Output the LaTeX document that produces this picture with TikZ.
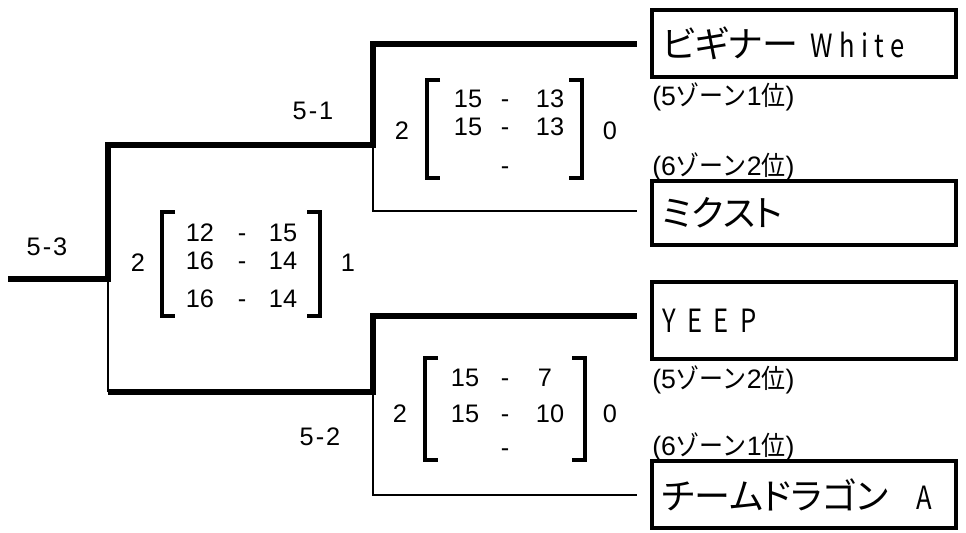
\documentclass[tikz,border=0pt]{standalone}
\usepackage{fontspec}
\setmainfont{Liberation Sans}
\newfontfamily\jp[RawFeature=+palt]{Noto Sans CJK JP}
\newfontfamily\jpn[FakeStretch=0.9]{Noto Sans CJK JP}
\newfontfamily\latnW[FakeStretch=0.8,LetterSpace=20]{Noto Sans CJK JP}
\newfontfamily\latnY[FakeStretch=0.8,LetterSpace=36]{Noto Sans CJK JP}
\newcommand\scorerow[7]{%
  \node[score] (#1a) at (#3,#2) {#6};
  \node[score] (#1d) at (#4,#2) {-};
  \node[score] (#1b) at (#5,#2) {#7};}
\newcommand\brackets[4]{% xl, xr, top, bottom
  \draw[bracket] (#1+13,#3) -- (#1,#3) -- (#1,#4) -- (#1+13,#4);
  \draw[bracket] (#2-13,#3) -- (#2,#3) -- (#2,#4) -- (#2-13,#4);}
\begin{document}
\begin{tikzpicture}[x=0.75pt,y=-0.75pt,
  winline/.style={line width=5.2pt},
  loseline/.style={line width=2.2pt},
  bracket/.style={line width=2.8pt},
  team/.style={draw, line width=3pt, minimum width=228pt, inner xsep=7.5pt,
    inner ysep=0pt, text width=213pt, align=left, font=\jp\fontsize{27}{29}\selectfont},
  zlabel/.style={inner sep=0pt, anchor=west, font=\fontsize{20}{22}\selectfont},
  score/.style={inner sep=0pt, text height=13.6pt, text depth=0pt, font=\fontsize{19}{21}\selectfont},
  rlabel/.style={inner sep=0pt, text height=13.6pt, text depth=0pt, font=\fontsize{19}{21}\selectfont}]
\useasboundingbox (0,0) rectangle (966,532);

% team boxes
\node[team, minimum height=50.5pt] (b1) at (804,43.5) {ビギナー {\fontsize{24}{26}\latnW White}};
\node[team, minimum height=48pt] (b2) at (804,213) {ミクスト};
\node[team, minimum height=57.75pt] (b3) at (804,320.5) {\fontsize{24}{26}\latnY YEEP};
\node[team, minimum height=50pt] (b4) at (804,494.5) {チームドラゴン\hspace{21pt}{\fontsize{24}{26}\latnY A}};

% zone labels
\node[zlabel] (z1) at (652,97) {(5{\jpn ゾーン}1{\jpn 位})};
\node[zlabel] (z2) at (652,167) {(6{\jpn ゾーン}2{\jpn 位})};
\node[zlabel] (z3) at (652,380) {(5{\jpn ゾーン}2{\jpn 位})};
\node[zlabel] (z4) at (652,447) {(6{\jpn ゾーン}1{\jpn 位})};

% connector coordinates
\coordinate (r0) at (8,279);
\coordinate (j3) at (108,279);
\coordinate (j3t) at (108,145);
\coordinate (j3b) at (108,392);
\coordinate (j1) at (373,145);
\coordinate (j1t) at (373,44);
\coordinate (j1b) at (373,211);
\coordinate (e1) at (637,44);
\coordinate (e2) at (637,211);
\coordinate (j2) at (373,392);
\coordinate (j2t) at (373,316);
\coordinate (j2b) at (373,495);
\coordinate (e3) at (637,316);
\coordinate (e4) at (637,495);

\draw[loseline] (j1) -- (j1b) -- (e2);
\draw[loseline] (j3b) -- (j3);
\draw[loseline] (j2) -- (j2b) -- (e4);
\draw[winline] (r0) -- (j3) -- (j3t) -- (j1) -- (j1t) -- (e1);
\draw[winline] (e3) -- (j2t) -- (j2) -- (j3b);

% round labels
\node[rlabel] (m3) at (47,246) {5\kern1.5pt-\kern1.5pt3};
\node[rlabel] (m1) at (313,110) {5\kern1.5pt-\kern1.5pt1};
\node[rlabel] (m2) at (320,436) {5\kern1.5pt-\kern1.5pt2};

% match 5-1
\node[score] (t1w) at (402,130) {2};
\node[score] (t1l) at (610,130) {0};
\brackets{427}{582}{80}{178}
\scorerow{t1r1}{98}{468}{505}{550}{15}{13}
\scorerow{t1r2}{126}{468}{505}{550}{15}{13}
\node[score] (t1r3d) at (505,165) {-};

% match 5-3
\node[score] (t3w) at (138,262) {2};
\node[score] (t3l) at (348,262) {1};
\brackets{162}{320}{212}{316}
\scorerow{t3r1}{232}{200}{242}{283}{12}{15}
\scorerow{t3r2}{260}{200}{242}{283}{16}{14}
\scorerow{t3r3}{298}{200}{242}{283}{16}{14}

% match 5-2
\node[score] (t2w) at (400,413) {2};
\node[score] (t2l) at (610,413) {0};
\brackets{425}{585}{358}{460}
\scorerow{t2r1}{377}{465}{505}{545}{15}{7}
\scorerow{t2r2}{413}{465}{505}{550}{15}{10}
\node[score] (t2r3d) at (505,447) {-};
\end{tikzpicture}
\end{document}
